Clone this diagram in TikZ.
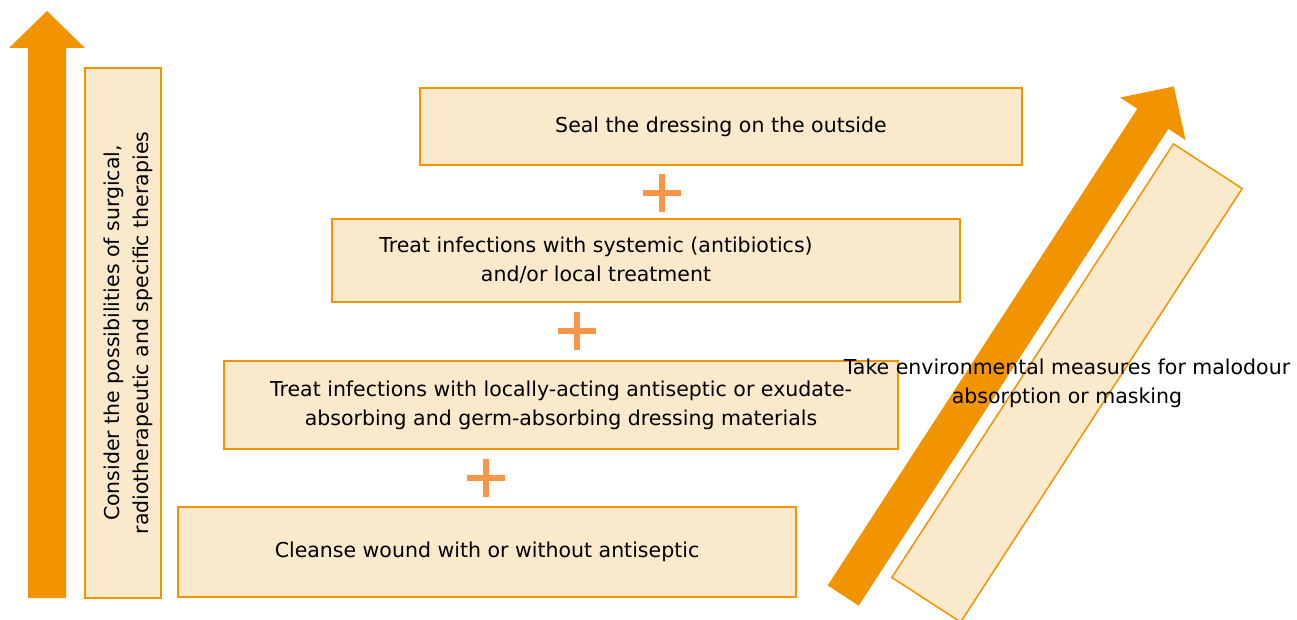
\documentclass[tikz,border=0pt]{standalone}
\usepackage{fontspec}
\setmainfont{DejaVu Sans}
\usepackage{xcolor}
\definecolor{arroworange}{HTML}{F29400}
\definecolor{boxfill}{HTML}{FBE9CC}
\definecolor{plusorange}{HTML}{F79646}

\begin{document}
\begin{tikzpicture}[x=1pt, y=-1pt,
  font=\fontsize{20.5}{29}\selectfont,
  box/.style={draw=arroworange, line width=2pt, fill=boxfill, inner sep=0pt, align=center},
  plussign/.style={draw=plusorange, line width=6pt},
  bigarrow/.style={fill=arroworange}]
  \useasboundingbox (0,0) rectangle (1297,620);

  % left arrow and side box
  \fill[bigarrow] (28,598) -- (28,48) -- (9,48) -- (47,11) -- (85,48) -- (66,48) -- (66,598) -- cycle;
  \node[box, minimum width=76, minimum height=530] (consider) at (123,333) {};
  \node[rotate=90, align=center] (considertext) at ([xshift=5]consider.center)
    {Consider the possibilities of surgical,\\radiotherapeutic and specific therapies};

  % steps
  \node[box, minimum width=618, minimum height=90] (cleanse) at (487,552)
    {Cleanse wound with or without antiseptic};
  \node[box, minimum width=674, minimum height=88] (local) at (561,405)
    {Treat infections with locally-acting antiseptic or exudate-\\absorbing and germ-absorbing dressing materials};
  \node[box, minimum width=628, minimum height=83] (systemic) at (646,260.5) {};
  \node[align=center] (systemictext) at ([xshift=-50]systemic.center)
    {Treat infections with systemic (antibiotics)\\and/or local treatment};
  \node[box, minimum width=602, minimum height=77] (seal) at (721,126.5)
    {Seal the dressing on the outside};

  % plus signs
  \foreach \p in {(662,193),(577,331),(486,478)}
    \draw[plussign] \p +(-19,0) -- +(19,0) \p +(0,-19) -- +(0,19);

  % diagonal arrow and box
  \begin{scope}[shift={(1008.5,341)}, rotate=57]
    \fill[bigarrow] (-303.5,-18.5) -- (265,-18.5) -- (265,-39) -- (303.5,0)
      -- (265,39) -- (265,18.5) -- (-303.5,18.5) -- cycle;
  \end{scope}
  \node[box, line width=1.5pt, rotate=57, minimum width=517, minimum height=82] (odourbox) at (1067,383) {};
  \node[align=center] (odourtext) at (odourbox.center)
    {Take environmental measures for malodour\\absorption or masking};
\end{tikzpicture}
\end{document}
